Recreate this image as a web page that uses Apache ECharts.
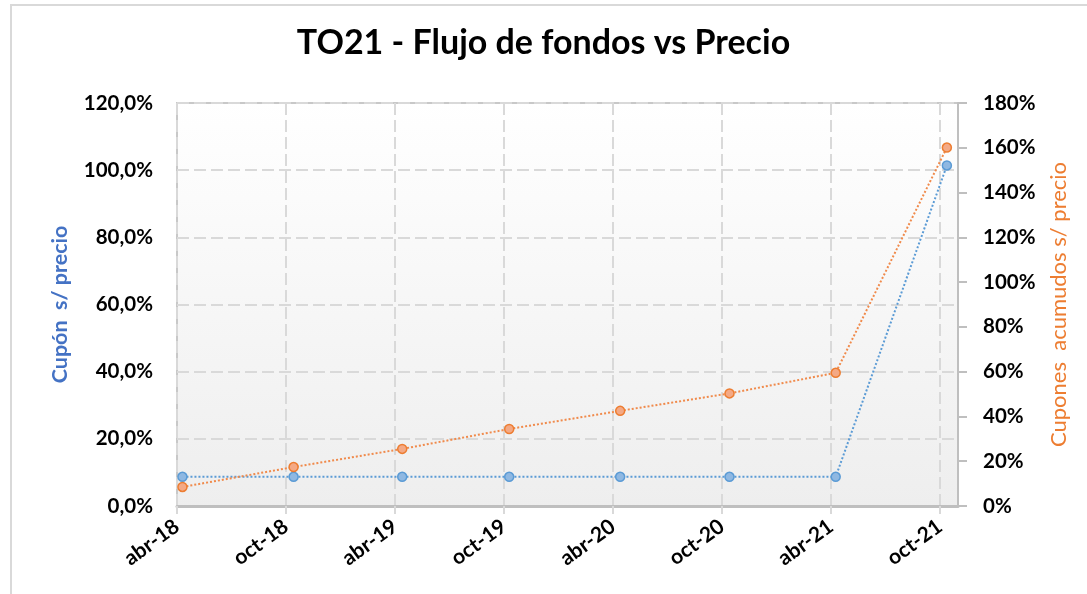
<!DOCTYPE html>
<html>
<head>
<meta charset="utf-8">
<script src="https://cdn.jsdelivr.net/npm/echarts@6/dist/echarts.min.js"></script>
<style>
html, body { margin: 0; padding: 0; background: #fff; }
#main { width: 1087px; height: 594px; }
</style>
</head>
<body>
<div id="main"></div>
<script>
// etiquetas del eje X (cada 6 meses, desde abr-18)
var tickLabels = ['abr-18', 'oct-18', 'abr-19', 'oct-19', 'abr-20', 'oct-20', 'abr-21', 'oct-21'];
// fechas de pago de cupón
var payDates = ['2018-04-10', '2018-10-14', '2019-04-13', '2019-10-10', '2020-04-13', '2020-10-14', '2021-04-09', '2021-10-13'];
// cupón s/ precio (%)
var cupon = [8.7, 8.7, 8.7, 8.7, 8.7, 8.7, 8.7, 101.4];
// cupones acumulados s/ precio (%)
var acumulado = [8.5, 17.4, 25.5, 34.4, 42.5, 50.3, 59.5, 160.1];

var font = 'Lato';

// meses transcurridos desde abr-18
function monthIndex(d) {
	var p = d.split('-');
	var y = +p[0], m = +p[1], day = +p[2];
	var dim = new Date(y, m, 0).getDate();
	return (y - 2018) * 12 + (m - 4) + (day - 1) / dim;
}
var tickValues = tickLabels.map(function (l, i) { return i * 6; });

var dataCupon = payDates.map(function (d, i) { return [monthIndex(d), cupon[i]]; });
var dataAcum = payDates.map(function (d, i) { return [monthIndex(d), acumulado[i]]; });

var gridColor = '#d9d9d9';
var axisGray = '#bfbfbf';

var option = {
	animation: false,
	backgroundColor: '#ffffff',
	title: {
		text: 'TO21 - Flujo de fondos vs Precio',
		left: 'center',
		top: 21,
		padding: [5, 5, 5, 14],
		textStyle: { fontFamily: font, fontWeight: 'bold', fontSize: 34, color: '#000' }
	},
	graphic: [{
		type: 'rect',
		shape: { x: 11, y: 5, width: 2000, height: 2000 },
		style: { fill: 'none', stroke: '#d9d9d9', lineWidth: 2 },
		z: -1
	}],
	grid: {
		left: 177,
		right: 129,
		top: 103,
		bottom: 88,
		show: true,
		borderColor: '#c8c8c8',
		borderWidth: 2,
		backgroundColor: {
			type: 'linear', x: 0, y: 0, x2: 0, y2: 1,
			colorStops: [{ offset: 0, color: '#ffffff' }, { offset: 1, color: '#eeeeee' }]
		}
	},
	xAxis: {
		type: 'value',
		min: 0,
		max: 43,
		interval: 6,
		axisLine: { show: true, lineStyle: { color: axisGray, width: 3 } },
		axisTick: {
			show: true, length: 8, customValues: tickValues,
			lineStyle: { color: gridColor, width: 2 }
		},
		axisLabel: {
			customValues: tickValues,
			rotate: 36,
			margin: 18,
			fontFamily: font, fontWeight: 'bold', fontSize: 21, color: '#000',
			formatter: function (v) {
				var i = Math.round(v / 6);
				return (Math.abs(v - i * 6) < 1e-6 && tickLabels[i]) ? tickLabels[i] : '';
			}
		},
		splitLine: { show: true, lineStyle: { color: gridColor, width: 2, type: [12, 5] } }
	},
	yAxis: [{
		type: 'value',
		min: 0,
		max: 120,
		interval: 20,
		name: 'Cupón  s/ precio',
		nameLocation: 'middle',
		nameGap: 106,
		nameTextStyle: { fontFamily: font, fontWeight: 'bold', fontSize: 21.5, color: '#4472C4' },
		axisLine: { show: false },
		axisTick: { show: false },
		axisLabel: {
			margin: 24,
			fontFamily: font, fontWeight: 'bold', fontSize: 20.5, color: '#000',
			formatter: function (v) { return v.toFixed(1).replace('.', ',') + '%'; }
		},
		splitLine: { show: true, lineStyle: { color: gridColor, width: 2, type: [12, 5] } }
	}, {
		type: 'value',
		position: 'right',
		min: 0,
		max: 180,
		interval: 20,
		name: 'Cupones  acumudos s/ precio',
		nameLocation: 'middle',
		nameGap: 90,
		nameRotate: 90,
		nameTextStyle: { fontFamily: font, fontSize: 22, color: '#ED7D31' },
		axisLine: { show: true, lineStyle: { color: axisGray, width: 2 } },
		axisTick: { show: true, inside: false, length: 9, lineStyle: { color: axisGray, width: 2 } },
		axisLabel: {
			margin: 25,
			fontFamily: font, fontWeight: 'bold', fontSize: 20.5, color: '#000',
			formatter: function (v) { return v + '%'; }
		},
		splitLine: { show: false }
	}],
	series: [{
		name: 'Cupón s/ precio',
		type: 'line',
		yAxisIndex: 0,
		data: dataCupon,
		symbol: 'circle',
		symbolSize: 9,
		lineStyle: { color: '#5B9BD5', width: 2, type: 'dotted' },
		itemStyle: { color: '#8FB8E2', borderColor: '#5B9BD5', borderWidth: 1.5 },
		z: 3
	}, {
		name: 'Cupones acumulados s/ precio',
		type: 'line',
		yAxisIndex: 1,
		data: dataAcum,
		symbol: 'circle',
		symbolSize: 9,
		lineStyle: { color: '#F08A4B', width: 2, type: 'dotted' },
		itemStyle: { color: '#F4A985', borderColor: '#ED7D31', borderWidth: 1.5 },
		z: 4
	}]
};

var myChart = echarts.init(document.getElementById('main'));
myChart.setOption(option);
</script>
</body>
</html>
